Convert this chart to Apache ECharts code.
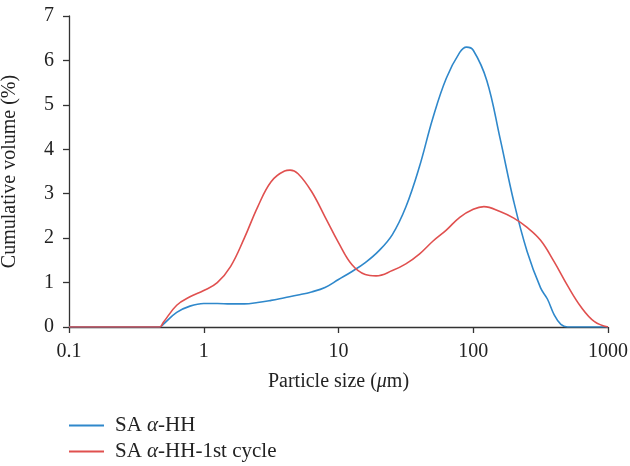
<!DOCTYPE html>
<html>
<head>
<meta charset="utf-8">
<script src="https://cdn.jsdelivr.net/npm/echarts@6/dist/echarts.min.js"></script>
<style>html,body{margin:0;padding:0;background:#fff;}#c{width:630px;height:466px;}</style>
</head>
<body>
<div id="c"></div>
<script>
var seriesNames = ['SA α-HH', 'SA α-HH-1st cycle'];
var blueSizes = [0.1, 0.47, 0.5, 0.63, 0.79, 1.0, 1.26, 1.58, 2.0, 2.51, 3.16, 3.98, 5.01, 6.31, 7.94, 10, 12.6, 15.8, 20, 25.1, 31.6, 39.8, 50.1, 63.1, 79.4, 89.1, 100, 126, 158, 200, 251, 316, 355, 398, 447, 501, 1000];
var blueValues = [0, 0, 0.06, 0.33, 0.47, 0.53, 0.53, 0.52, 0.52, 0.55, 0.6, 0.66, 0.72, 0.79, 0.89, 1.07, 1.25, 1.45, 1.72, 2.08, 2.7, 3.6, 4.7, 5.6, 6.18, 6.3, 6.23, 5.55, 4.25, 2.82, 1.7, 0.88, 0.63, 0.28, 0.06, 0, 0];
var redSizes = [0.1, 0.47, 0.5, 0.63, 0.79, 1.0, 1.26, 1.58, 2.0, 2.51, 3.16, 3.98, 4.37, 5.01, 6.31, 7.94, 10, 12.6, 15.8, 19, 25.1, 31.6, 39.8, 50.1, 63.1, 79.4, 100, 120, 158, 200, 251, 316, 398, 501, 631, 794, 1000];
var redValues = [0, 0, 0.1, 0.49, 0.68, 0.82, 1.0, 1.36, 2.0, 2.7, 3.27, 3.51, 3.53, 3.45, 3.05, 2.48, 1.9, 1.4, 1.18, 1.15, 1.27, 1.42, 1.64, 1.93, 2.18, 2.47, 2.65, 2.71, 2.6, 2.45, 2.24, 1.95, 1.47, 0.93, 0.45, 0.12, 0];
var xTicks = [0.1, 1, 10, 100, 1000];
var yTicks = [0, 1, 2, 3, 4, 5, 6, 7];

function zip(a, b) { return a.map(function (v, i) { return [v, b[i]]; }); }

var FONT = '"Liberation Serif", "DejaVu Serif", serif';
var chart = echarts.init(document.getElementById('c'));
chart.setOption({
  animation: false,
  textStyle: { fontFamily: FONT },
  grid: { left: 69, right: 22, top: 16, bottom: 139, containLabel: false, outerBoundsMode: 'none' },
  xAxis: {
    type: 'log', logBase: 10, min: xTicks[0], max: xTicks[xTicks.length - 1],
    name: '{n|Particle size (}{i|μ}{n|m)}',
    nameLocation: 'middle', nameGap: 45,
    nameTextStyle: {
      rich: {
        n: { fontFamily: FONT, fontSize: 20, color: '#222' },
        i: { fontFamily: FONT, fontSize: 20, fontStyle: 'italic', color: '#222' }
      }
    },
    axisLine: { lineStyle: { color: '#333', width: 1.3 } },
    axisTick: { show: true, inside: false, length: 6, lineStyle: { color: '#333', width: 1.3 } },
    minorTick: { show: false },
    splitLine: { show: false },
    axisLabel: { fontFamily: FONT, fontSize: 20, color: '#222', margin: 15,
      formatter: function (v) { return String(v); } }
  },
  yAxis: {
    type: 'value', min: yTicks[0], max: yTicks[yTicks.length - 1], interval: 1,
    name: 'Cumulative volume (%)',
    nameLocation: 'middle', nameGap: 49,
    nameTextStyle: { fontFamily: FONT, fontSize: 20, color: '#222' },
    axisLine: { show: true, lineStyle: { color: '#333', width: 1.3 } },
    axisTick: { show: true, inside: false, length: 6, lineStyle: { color: '#333', width: 1.3 } },
    splitLine: { show: false },
    axisLabel: { fontFamily: FONT, fontSize: 20, color: '#222', margin: 15 }
  },
  legend: {
    orient: 'vertical', left: 69, top: 415, height: 80, padding: 0, itemGap: 5,
    itemWidth: 35, itemHeight: 2, icon: 'rect',
    data: seriesNames,
    formatter: function (name) {
      var k = name.indexOf('α');
      return '{n|' + name.slice(0, k) + '}{i|α}{n|' + name.slice(k + 1) + '}';
    },
    textStyle: {
      padding: [0, 0, 0, 6],
      rich: {
        n: { fontFamily: FONT, fontSize: 21, color: '#222' },
        i: { fontFamily: FONT, fontSize: 21, fontStyle: 'italic', color: '#222' }
      }
    }
  },
  series: [
    { name: seriesNames[0], type: 'line', data: zip(blueSizes, blueValues), smooth: 0.4,
      symbol: 'none', lineStyle: { color: '#2f88cb', width: 1.6 }, itemStyle: { color: '#2f88cb' } },
    { name: seriesNames[1], type: 'line', data: zip(redSizes, redValues), smooth: 0.4,
      symbol: 'none', lineStyle: { color: '#e0504f', width: 1.6 }, itemStyle: { color: '#e0504f' } }
  ]
});
</script>
</body>
</html>
